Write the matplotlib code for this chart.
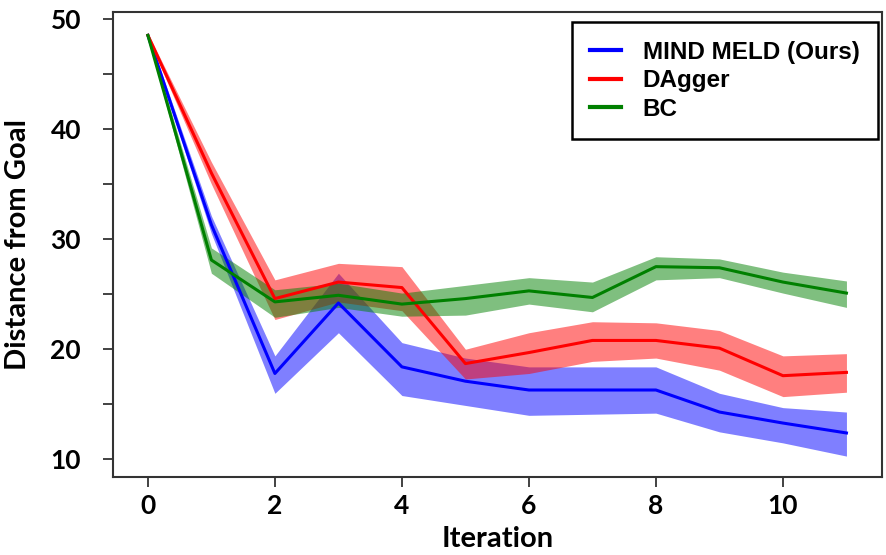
import numpy as np
import matplotlib
matplotlib.use("Agg")
import matplotlib.pyplot as plt
from matplotlib.ticker import MultipleLocator

# iteration index
ITER = np.arange(12)

# MIND MELD (Ours)
MM_MEAN = [48.5, 31.3, 17.8, 24.2, 18.4, 17.1, 16.3, 16.3, 16.3, 14.3, 13.3, 12.4]
MM_LO = [48.3, 30.5, 16.0, 21.5, 15.8, 14.9, 14.0, 14.1, 14.2, 12.5, 11.5, 10.3]
MM_HI = [48.7, 32.1, 19.4, 26.9, 20.6, 19.2, 18.4, 18.4, 18.4, 16.0, 14.7, 14.3]

# DAgger
DAG_MEAN = [48.5, 36.0, 24.6, 26.1, 25.6, 18.7, 19.7, 20.8, 20.8, 20.1, 17.6, 17.9]
DAG_LO = [48.3, 35.0, 22.7, 24.3, 23.5, 17.3, 17.8, 18.9, 19.2, 18.1, 15.7, 16.1]
DAG_HI = [48.7, 37.0, 26.3, 27.8, 27.5, 20.0, 21.5, 22.5, 22.4, 21.7, 19.4, 19.6]

# BC
BC_MEAN = [48.5, 28.1, 24.3, 24.9, 24.1, 24.6, 25.3, 24.7, 27.5, 27.4, 26.1, 25.1]
BC_LO = [48.3, 26.9, 22.9, 23.8, 23.0, 23.1, 24.1, 23.4, 26.3, 26.5, 25.1, 23.8]
BC_HI = [48.7, 29.2, 25.4, 26.0, 25.1, 25.8, 26.5, 26.1, 28.4, 28.2, 27.0, 26.2]

SERIES = [
    ("MIND MELD (Ours)", MM_MEAN, MM_LO, MM_HI, "#0000ff"),
    ("DAgger", DAG_MEAN, DAG_LO, DAG_HI, "#ff0000"),
    ("BC", BC_MEAN, BC_LO, BC_HI, "#008000"),
]

TICK_FONT = "Lato"
LEG_FONT = "Liberation Sans"

fig = plt.figure(figsize=(8.86, 5.55), dpi=100)
ax = fig.add_axes([0.1275, 0.1405, 0.868, 0.8375])

handles = []
for name, mean, lo, hi, col in SERIES:
    ax.fill_between(ITER, lo, hi, color=col, alpha=0.5, lw=0)
    ln, = ax.plot(ITER, mean, color=col, lw=2.2, label=name)
    handles.append(ln)

ax.set_xlim(-0.55, 11.56)
ax.set_ylim(8.4, 50.6)
ax.xaxis.set_major_locator(MultipleLocator(2))
ax.yaxis.set_major_locator(MultipleLocator(10))
ax.yaxis.set_minor_locator(MultipleLocator(5))
ax.tick_params(axis="both", which="both", direction="out", length=7, width=1.3,
               color="#333333")
ax.tick_params(axis="x", pad=5)
ax.tick_params(axis="y", pad=16)

for lab in ax.get_xticklabels() + ax.get_yticklabels():
    lab.set_fontfamily(TICK_FONT)
    lab.set_fontweight("bold")
    lab.set_fontsize(19)

ax.set_xlabel("Iteration", fontfamily=TICK_FONT, fontweight="bold", fontsize=21, labelpad=6)
ax.set_ylabel("Distance from Goal", fontfamily=TICK_FONT, fontweight="bold", fontsize=21,
              labelpad=14)

for sp in ax.spines.values():
    sp.set_linewidth(1.5)
    sp.set_color("#333333")

leg = ax.legend(handles=handles, loc="upper right", bbox_to_anchor=(0.995, 0.9785),
                prop={"family": LEG_FONT, "weight": "bold", "size": 17.5},
                frameon=True, fancybox=False, framealpha=1, edgecolor="black",
                handlelength=1.25, handletextpad=0.9, labelspacing=0.22,
                borderpad=0.77, borderaxespad=0)
leg.get_frame().set_linewidth(1.8)
for h in leg.legend_handles:
    h.set_linewidth(3)

fig.savefig("out.png", dpi=100)
